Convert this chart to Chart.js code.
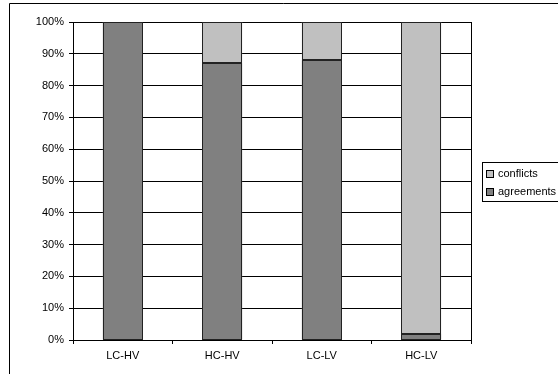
<!DOCTYPE html>
<html>
<head>
<meta charset="utf-8">
<script src="https://cdn.jsdelivr.net/npm/chart.js@4.4.1/dist/chart.umd.min.js"></script>
<style>
  html, body { margin: 0; padding: 0; background: #fff; }
  #wrap { width: 558px; height: 374px; position: relative; }
</style>
</head>
<body>
<div id="wrap"><canvas id="myChart" width="558" height="374"></canvas></div>
<script>
  const categories = ['LC-HV', 'HC-HV', 'LC-LV', 'HC-LV'];
  const agreements = [100, 87, 88, 2];
  const conflicts = [0, 13, 12, 98];
  const yTicks = [0, 10, 20, 30, 40, 50, 60, 70, 80, 90, 100];

  const FONT = 'Liberation Sans, Arial, sans-serif';

  // crisp dark outline round every bar segment
  const outlinePlugin = {
    id: 'outlinePlugin',
    afterDatasetsDraw(chart) {
      const { ctx } = chart;
      ctx.save();
      ctx.strokeStyle = '#222';
      ctx.lineWidth = 1;
      chart.data.datasets.forEach((ds, i) => {
        chart.getDatasetMeta(i).data.forEach((bar, j) => {
          if (!ds.data[j]) return;
          const p = bar.getProps(['x', 'y', 'base', 'width']);
          const l = Math.round(p.x - p.width / 2) + 0.5;
          const r = Math.round(p.x + p.width / 2) - 0.5;
          const t = Math.round(p.y) + 0.5;
          const b = Math.round(p.base) - 0.5;
          ctx.strokeRect(l, t, r - l, b - t);
        });
      });
      ctx.restore();
    }
  };

  // outer frame, plot border and the boxed legend
  const framePlugin = {
    id: 'framePlugin',
    afterDraw(chart) {
      const { ctx, chartArea } = chart;
      ctx.save();
      ctx.strokeStyle = '#000';
      ctx.lineWidth = 1;
      ctx.beginPath();
      ctx.moveTo(9.5, 374);
      ctx.lineTo(9.5, 3.5);
      ctx.lineTo(558, 3.5);
      ctx.stroke();

      ctx.beginPath();
      ctx.moveTo(Math.round(chartArea.right) + 0.5, chartArea.top);
      ctx.lineTo(Math.round(chartArea.right) + 0.5, chartArea.bottom);
      ctx.stroke();

      // legend
      ctx.strokeRect(482.5, 162.5, 80, 39);
      const items = chart.data.datasets.slice().reverse();
      ctx.font = '11px ' + FONT;
      ctx.textBaseline = 'middle';
      items.forEach((ds, i) => {
        const y = 174 + i * 18;
        ctx.fillStyle = ds.backgroundColor;
        ctx.fillRect(486.5, y - 3.5, 7, 7);
        ctx.strokeStyle = '#000';
        ctx.strokeRect(486.5, y - 3.5, 7, 7);
        ctx.fillStyle = '#000';
        ctx.fillText(ds.label, 498, y);
      });
      ctx.restore();
    }
  };

  new Chart(document.getElementById('myChart'), {
    type: 'bar',
    data: {
      labels: categories,
      datasets: [{
        label: 'agreements',
        data: agreements,
        backgroundColor: '#808080',
        borderWidth: 0,
        categoryPercentage: 1,
        barPercentage: 0.4
      }, {
        label: 'conflicts',
        data: conflicts,
        backgroundColor: '#c0c0c0',
        borderWidth: 0,
        categoryPercentage: 1,
        barPercentage: 0.4
      }]
    },
    options: {
      responsive: false,
      animation: false,
      layout: {
        padding: { top: 22, right: 87, left: 0, bottom: 0 }
      },
      plugins: {
        legend: { display: false },
        tooltip: { enabled: false }
      },
      scales: {
        x: {
          stacked: true,
          grid: {
            offset: true,
            drawOnChartArea: false,
            color: '#000',
            tickLength: 4
          },
          border: { display: true, color: '#000' },
          ticks: {
            color: '#000',
            font: { family: FONT, size: 11 },
            padding: 5
          },
          afterFit(scale) { scale.height = 34; }
        },
        y: {
          stacked: true,
          min: 0,
          max: 100,
          afterBuildTicks(scale) {
            scale.ticks = yTicks.map(v => ({ value: v }));
          },
          grid: {
            color: '#000',
            tickLength: 4
          },
          border: { display: true, color: '#000' },
          ticks: {
            color: '#000',
            font: { family: FONT, size: 11 },
            padding: 5,
            callback: v => v + '%'
          },
          afterFit(scale) { scale.width = 73; }
        }
      }
    },
    plugins: [outlinePlugin, framePlugin]
  });
</script>
</body>
</html>
